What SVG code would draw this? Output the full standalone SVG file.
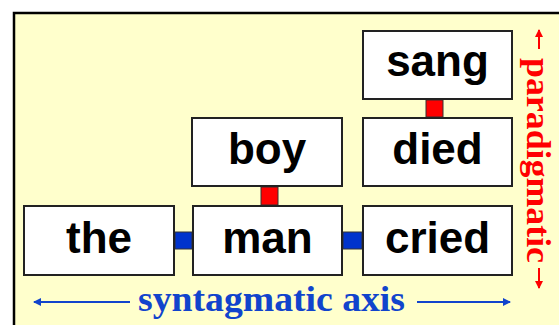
<svg xmlns="http://www.w3.org/2000/svg" width="559" height="325" viewBox="0 0 559 325">
<defs>
<style>
.bg{fill:#FFFFCC;stroke:#000;stroke-width:2.5}
.box{fill:#fff;stroke:#222;stroke-width:2}
.word{font-family:"Liberation Sans",Arial,sans-serif;font-weight:bold;font-size:44px;fill:#000;text-anchor:middle}
.red{fill:#FF0000;stroke:#333;stroke-width:1}
.blue{fill:#0033CC;stroke:#333;stroke-width:1}
.syn{font-family:"Liberation Serif","Times New Roman",serif;font-weight:bold;font-size:36px;fill:#1144CC}
.par{font-family:"Liberation Serif","Times New Roman",serif;font-weight:bold;font-size:34px;fill:#FF0000}
</style>
<marker id="ab" markerWidth="8" markerHeight="8" refX="7" refY="4" orient="auto" markerUnits="userSpaceOnUse"><path d="M0,0 L8,4 L0,8 Z" fill="#1144CC"/></marker>
<marker id="ar" markerWidth="8" markerHeight="8" refX="7" refY="4" orient="auto" markerUnits="userSpaceOnUse"><path d="M0,0 L8,4 L0,8 Z" fill="#FF0000"/></marker>
</defs>
<rect x="0" y="0" width="559" height="325" fill="#fff"/>
<rect class="bg" x="14" y="13" width="600" height="400"/>
<g id="connectors">
<rect class="red" x="426" y="100" width="17" height="17"/>
<rect class="red" x="261" y="187" width="17" height="18"/>
<rect class="blue" x="175" y="232" width="17" height="17"/>
<rect class="blue" x="343" y="232" width="19" height="17"/>
</g>
<g id="sang"><rect class="box" x="363" y="31" width="149" height="68"/><text class="word" x="437.5" y="76">sang</text></g>
<g id="died"><rect class="box" x="363" y="118" width="149" height="68"/><text class="word" x="437.5" y="164">died</text></g>
<g id="boy"><rect class="box" x="192" y="118" width="150" height="68"/><text class="word" x="267" y="164">boy</text></g>
<g id="the"><rect class="box" x="24" y="206" width="150" height="69"/><text class="word" x="99" y="253">the</text></g>
<g id="man"><rect class="box" x="193" y="206" width="149" height="69"/><text class="word" x="267.5" y="253">man</text></g>
<g id="cried"><rect class="box" x="363" y="206" width="149" height="69"/><text class="word" x="437.5" y="253">cried</text></g>
<g id="syntagmatic">
<line x1="130" y1="302" x2="34" y2="302" stroke="#1144CC" stroke-width="2" marker-end="url(#ab)"/>
<text class="syn" x="138" y="311" textLength="267" lengthAdjust="spacingAndGlyphs">syntagmatic axis</text>
<line x1="417" y1="302" x2="510" y2="302" stroke="#1144CC" stroke-width="2" marker-end="url(#ab)"/>
</g>
<g id="paradigmatic">
<line x1="539" y1="49" x2="539" y2="30" stroke="#FF0000" stroke-width="2" marker-end="url(#ar)"/>
<text class="par" transform="translate(527,58) rotate(90)" textLength="205" lengthAdjust="spacingAndGlyphs">paradigmatic</text>
<line x1="539" y1="268" x2="539" y2="288" stroke="#FF0000" stroke-width="2" marker-end="url(#ar)"/>
</g>
</svg>
